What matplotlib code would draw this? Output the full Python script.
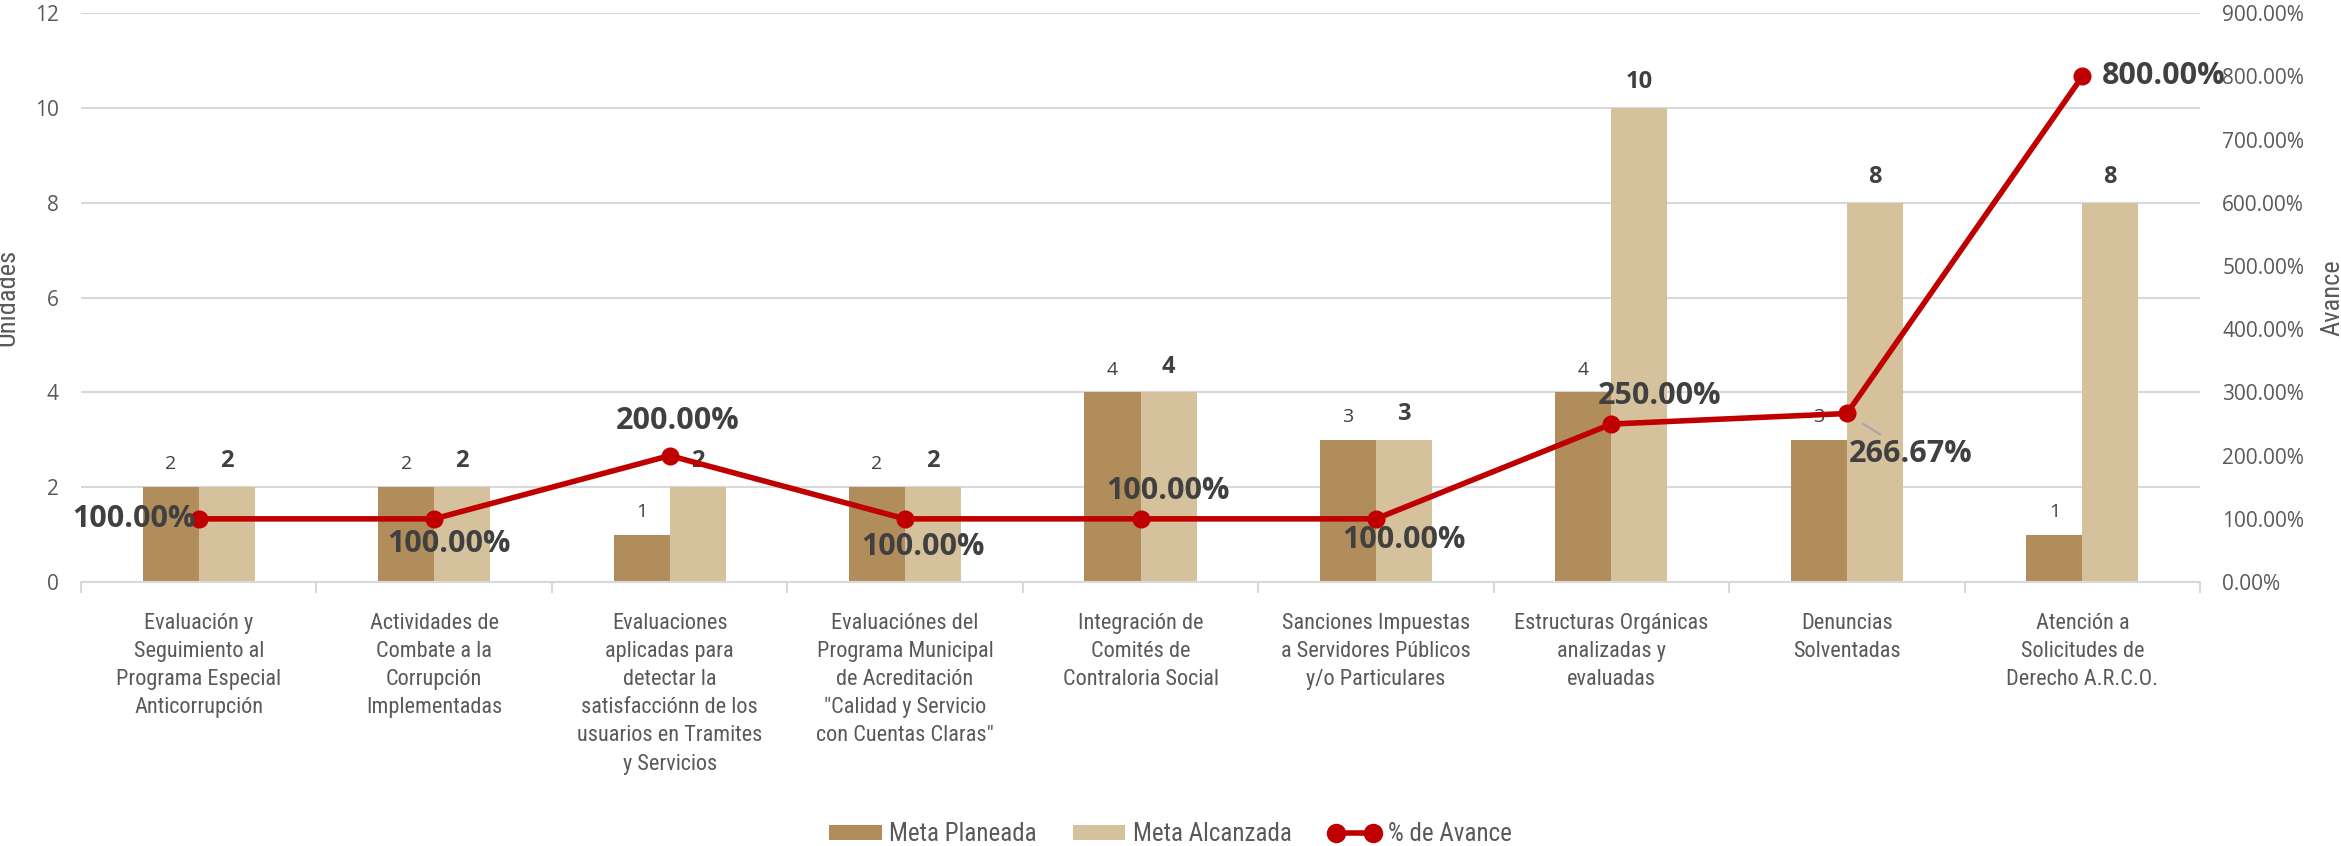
import matplotlib
matplotlib.use("Agg")
import numpy as np
import matplotlib.pyplot as plt
from matplotlib.patches import Patch
from matplotlib.lines import Line2D

categorias = [
    "Evaluación y\nSeguimiento al\nPrograma Especial\nAnticorrupción",
    "Actividades de\nCombate a la\nCorrupción\nImplementadas",
    "Evaluaciones\naplicadas para\ndetectar la\nsatisfacciónn de los\nusuarios en Tramites\ny Servicios",
    "Evaluaciónes del\nPrograma Municipal\nde Acreditación\n\"Calidad y Servicio\ncon Cuentas Claras\"",
    "Integración de\nComités de\nContraloria Social",
    "Sanciones Impuestas\na Servidores Públicos\ny/o Particulares",
    "Estructuras Orgánicas\nanalizadas y\nevaluadas",
    "Denuncias\nSolventadas",
    "Atención a\nSolicitudes de\nDerecho A.R.C.O.",
]
meta_planeada = [2, 2, 1, 2, 4, 3, 4, 3, 1]
meta_alcanzada = [2, 2, 2, 2, 4, 3, 10, 8, 8]
avance = [100.00, 100.00, 200.00, 100.00, 100.00, 100.00, 250.00, 266.67, 800.00]

# label placement for the % line (offset in points, alignment)
avance_pos = [
    ((-2, 0), "right", "center"),
    ((11, -18), "center", "center"),
    ((6, 25), "center", "center"),
    ((13, -20), "center", "center"),
    ((20, 20), "center", "center"),
    ((20, -15), "center", "center"),
    ((35, 20), "center", "center"),
    ((46, -29), "center", "center"),
    ((14, 0), "left", "center"),
]

c_dark = "#B28D5C"
c_light = "#D5C19B"
c_red = "#C00000"
c_text = "#404040"
c_tick = "#595959"
c_grid = "#D9D9D9"

plt.rcParams["font.family"] = ["Open Sans", "DejaVu Sans"]
narrow = ["Roboto Condensed", "PT Sans Narrow", "DejaVu Sans"]

fig = plt.figure(figsize=(23.41, 8.46), dpi=100)
ax = fig.add_axes([0.0346, 0.312, 0.9052, 0.6724])

x = np.arange(len(categorias))
w = 0.238

ax.bar(x - w / 2, meta_planeada, w, color=c_dark, zorder=2)
ax.bar(x + w / 2, meta_alcanzada, w, color=c_light, zorder=2)

for xi, v in zip(x, meta_planeada):
    ax.annotate(str(v), (xi - w / 2, v), xytext=(0, 10), textcoords="offset points",
                ha="center", va="bottom", fontsize=14, color=c_text)
for xi, v in zip(x, meta_alcanzada):
    ax.annotate(str(v), (xi + w / 2, v), xytext=(0, 10), textcoords="offset points",
                ha="center", va="bottom", fontsize=17, fontweight="bold", color=c_text)

ax.set_xlim(-0.5, len(categorias) - 0.5)
ax.set_ylim(0, 12)
ax.set_yticks(range(0, 13, 2))
ax.grid(axis="y", color=c_grid, linewidth=1.5, zorder=0)
ax.set_axisbelow(True)
for s in ["top", "left", "right"]:
    ax.spines[s].set_visible(False)
ax.spines["bottom"].set_color(c_grid)
ax.spines["bottom"].set_linewidth(1.5)
ax.tick_params(axis="y", length=0, pad=16, labelsize=15, labelcolor=c_tick)

# category labels centred, separators as minor ticks between groups
ax.set_xticks(x)
ax.set_xticklabels(categorias, fontsize=16, color=c_tick, linespacing=1.45,
                   va="top", family=narrow)
ax.tick_params(axis="x", which="major", length=0, pad=22)
ax.set_xticks(np.arange(-0.5, len(categorias), 1), minor=True)
ax.tick_params(axis="x", which="minor", length=8, width=1.5, color=c_grid)
ax.set_ylabel("Unidades", fontsize=19, color=c_tick, family=narrow)
ax.yaxis.set_label_coords(-0.029, 0.5)

ax2 = ax.twinx()
ax2.plot(x, np.array(avance) / 100, color=c_red, linewidth=4, marker="o",
         markersize=12, zorder=5)
ax2.set_ylim(0, 9)
ax2.set_yticks(range(0, 10))
ax2.set_yticklabels(["%.2f%%" % (v * 100) for v in range(0, 10)])
for s in ["top", "left", "right", "bottom"]:
    ax2.spines[s].set_visible(False)
ax2.tick_params(axis="y", length=0, pad=16, labelsize=15, labelcolor=c_tick)
ax2.set_ylabel("Avance", fontsize=19, color=c_tick, rotation=90, family=narrow)
ax2.yaxis.set_label_coords(1.057, 0.5)

for i, (xi, v) in enumerate(zip(x, avance)):
    off, ha, va = avance_pos[i]
    props = None
    if i == 7:
        props = dict(arrowstyle="-", color="#A6A6A6", linewidth=1.5, shrinkA=2, shrinkB=14)
    ax2.annotate("%.2f%%" % v, (xi, v / 100), xytext=off, textcoords="offset points",
                 ha=ha, va=va, fontsize=22, fontweight="bold", color=c_text,
                 arrowprops=props, zorder=6)

handles = [
    Patch(facecolor=c_dark),
    Patch(facecolor=c_light),
    Line2D([0], [0], color=c_red, linewidth=4, marker="o", markersize=13),
]
fig.legend(handles, ["Meta Planeada", "Meta Alcanzada", "% de Avance"],
           loc="center", bbox_to_anchor=(0.5, 0.014), ncol=3, frameon=False,
           prop={"family": narrow, "size": 18}, labelcolor=c_tick,
           handlelength=2.1, handleheight=0.55, handletextpad=0.3,
           columnspacing=1.45, numpoints=2, borderpad=0.2)

fig.savefig("out.png", dpi=100)
